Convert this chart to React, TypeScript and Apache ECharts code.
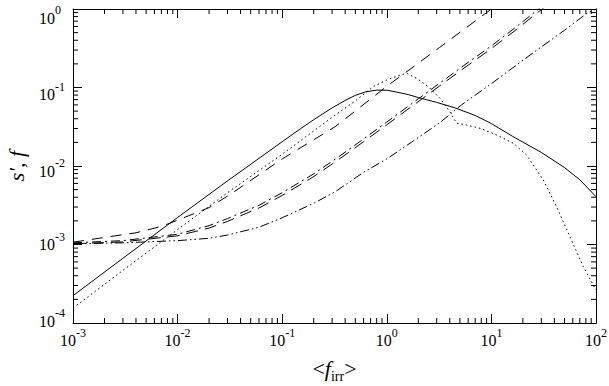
import React, { useEffect, useRef } from 'react';
import * as echarts from 'echarts';

const FONT = '"Liberation Serif", "DejaVu Serif", serif';

// x tick exponents / y tick exponents (labels are 10^e)
const xExponents = [-3, -2, -1, 0, 1, 2];
const yExponents = [-4, -3, -2, -1, 0];

// solid curve
const solidX = [0.001, 0.003, 0.01, 0.03, 0.1, 0.15, 0.2, 0.3, 0.4, 0.5, 0.63, 0.8, 1, 1.25, 1.6, 2, 3, 4.5, 7, 10, 16, 30, 50, 70, 100];
const solidY = [2.23e-4, 6.68e-4, 2.21e-3, 6.46e-3, 0.0204, 0.0299, 0.0389, 0.055, 0.0684, 0.0794, 0.0881, 0.0927, 0.0923, 0.0873, 0.0813, 0.0745, 0.0646, 0.055, 0.044, 0.0347, 0.0238, 0.0149, 9.55e-3, 6.68e-3, 4.07e-3];

// dotted curve
const dottedX = [0.001, 0.003, 0.01, 0.03, 0.1, 0.3, 0.5, 0.75, 1, 1.35, 1.55, 1.95, 2.5, 3.2, 4, 4.65, 5.8, 7.8, 11.2, 16.2, 21.7, 31.3, 42, 56.3, 75.7, 100];
const dottedY = [1.55e-4, 4.68e-4, 1.55e-3, 4.57e-3, 0.0141, 0.0417, 0.0676, 0.1035, 0.1247, 0.1445, 0.1517, 0.1294, 0.1023, 0.0736, 0.0495, 0.035, 0.0333, 0.0302, 0.0248, 0.0195, 0.0138, 6.64e-3, 3.03e-3, 1.256e-3, 5.21e-4, 2.63e-4];

// long-dash curve
const longDashX = [0.001, 0.002, 0.004, 0.007, 0.01, 0.02, 0.032, 0.1, 0.32, 1, 3.2, 10, 20];
const longDashY = [1.07e-3, 1.23e-3, 1.41e-3, 1.70e-3, 2.04e-3, 2.95e-3, 4.37e-3, 0.0123, 0.0316, 0.1035, 0.324, 1.0, 2.0];

// pair of nearly coincident dashed curves
const pairX = [0.001, 0.003, 0.01, 0.02, 0.03, 0.06, 0.1, 0.2, 0.32, 0.6, 1, 1.8, 3.2, 6, 10, 18, 28.2, 40];
const dashAY = [1.05e-3, 1.12e-3, 1.35e-3, 1.74e-3, 2.14e-3, 3.16e-3, 4.57e-3, 7.94e-3, 0.01216, 0.0221, 0.0363, 0.0646, 0.1135, 0.209, 0.339, 0.617, 1.0, 1.41];
const dashBY = [1.02e-3, 1.08e-3, 1.29e-3, 1.62e-3, 1.97e-3, 2.92e-3, 4.22e-3, 7.33e-3, 0.01122, 0.0204, 0.0335, 0.0596, 0.1047, 0.193, 0.313, 0.569, 0.923, 1.30];

// dash-dot-dot curve
const dashDotX = [0.001, 0.003, 0.01, 0.02, 0.03, 0.06, 0.1, 0.2, 0.32, 0.6, 1, 1.8, 3.2, 5.2, 10, 23.4, 50, 81, 100];
const dashDotY = [1.02e-3, 1.05e-3, 1.12e-3, 1.20e-3, 1.32e-3, 1.66e-3, 2.19e-3, 3.35e-3, 4.68e-3, 8.32e-3, 0.0123, 0.0209, 0.0355, 0.0603, 0.112, 0.259, 0.537, 0.871, 1.0];

const X_MIN = 10 ** xExponents[0];
const X_MAX = 10 ** xExponents[xExponents.length - 1];
const Y_MIN = 10 ** yExponents[0];
const Y_MAX = 10 ** yExponents[yExponents.length - 1];

// layout: vertical nudge of each y tick label (same order as yExponents), px
const yLabelNudge = [-5, -3, 2, 4, 6];

const xMinor: number[] = [];
for (let i = 0; i < xExponents.length - 1; i++) for (let k = 2; k <= 9; k++) xMinor.push(k * 10 ** xExponents[i]);
const yMinor: number[] = [];
for (let i = 0; i < yExponents.length - 1; i++) for (let k = 2; k <= 9; k++) yMinor.push(k * 10 ** yExponents[i]);

const pairs = (xs: number[], ys: number[]) => xs.map((x, i) => [x, ys[i]]);

const labelRich = {
  b: { fontFamily: FONT, fontSize: 16, color: '#000', lineHeight: 21, verticalAlign: 'bottom' },
  s: { fontFamily: FONT, fontSize: 12, color: '#000', lineHeight: 21, verticalAlign: 'top' },
};
const expFmt = (v: number) => `{b|10}{s|${Math.round(Math.log10(v))}}`;

const axisCommon = {
  type: 'log',
  logBase: 10,
  splitLine: { show: false },
  axisLine: { show: true, onZero: false, lineStyle: { color: '#000', width: 1 } },
  axisTick: { show: true, inside: true, length: 9, lineStyle: { color: '#000', width: 1 } },
};

const lineSeries = (name: string, xs: number[], ys: number[], type: any) => ({
  name,
  type: 'line',
  data: pairs(xs, ys),
  showSymbol: false,
  symbol: 'none',
  smooth: false,
  clip: true,
  silent: true,
  lineStyle: { color: '#000', width: 1, type, cap: 'butt', join: 'round' },
  xAxisIndex: 0,
  yAxisIndex: 0,
});

const tickStyle = { stroke: '#000', lineWidth: 1 };

const option: any = {
  animation: false,
  backgroundColor: '#fff',
  grid: { left: 73, right: 13, top: 9, bottom: 63, containLabel: false, outerBoundsMode: 'none' },
  xAxis: [
    {
      ...axisCommon,
      position: 'bottom',
      min: X_MIN,
      max: X_MAX,
      axisLabel: { margin: 4, formatter: expFmt, rich: labelRich, color: '#000' },
      name: '{n|<}{f|f}{sub|irr}{n|>}',
      nameLocation: 'middle',
      nameGap: 34,
      nameTextStyle: {
        fontFamily: FONT,
        color: '#000',
        fontSize: 22,
        rich: {
          n: { fontFamily: FONT, fontSize: 22, color: '#000', lineHeight: 26, verticalAlign: 'top' },
          f: { fontFamily: FONT, fontSize: 22, fontStyle: 'italic', color: '#000', lineHeight: 26, verticalAlign: 'top' },
          sub: { fontFamily: FONT, fontSize: 14, color: '#000', lineHeight: 26, verticalAlign: 'bottom' },
        },
      },
    },
    {
      ...axisCommon,
      position: 'top',
      min: X_MIN,
      max: X_MAX,
      axisLabel: { show: false },
    },
  ],
  yAxis: [
    {
      ...axisCommon,
      position: 'left',
      min: Y_MIN,
      max: Y_MAX,
      axisLabel: { show: false },
      name: 's\u2032, f',
      nameLocation: 'middle',
      nameRotate: 90,
      nameGap: 46,
      nameTextStyle: { fontFamily: FONT, fontSize: 22, fontStyle: 'italic', color: '#000' },
    },
    {
      ...axisCommon,
      position: 'right',
      min: Y_MIN,
      max: Y_MAX,
      axisLabel: { show: false },
    },
  ],
  series: [
    lineSeries('solid', solidX, solidY, 'solid'),
    lineSeries('dotted', dottedX, dottedY, [1.5, 3]),
    lineSeries('longDash', longDashX, longDashY, [11, 8]),
    lineSeries('dashA', pairX, dashAY, [9, 4, 2, 4]),
    lineSeries('dashB', pairX, dashBY, [12, 7]),
    lineSeries('dashDotDot', dashDotX, dashDotY, [9, 3, 1.5, 3, 1.5, 3]),
    {
      type: 'custom',
      silent: true,
      xAxisIndex: 0,
      yAxisIndex: 0,
      data: xMinor.map((v) => [v, Y_MIN]),
      renderItem: (_p: any, api: any) => {
        const v = api.value(0);
        const b = api.coord([v, Y_MIN]);
        const t = api.coord([v, Y_MAX]);
        return {
          type: 'group',
          children: [
            { type: 'line', shape: { x1: b[0], y1: b[1], x2: b[0], y2: b[1] - 5 }, style: tickStyle },
            { type: 'line', shape: { x1: t[0], y1: t[1], x2: t[0], y2: t[1] + 5 }, style: tickStyle },
          ],
        };
      },
    },
    {
      type: 'custom',
      silent: true,
      xAxisIndex: 0,
      yAxisIndex: 0,
      data: yMinor.map((v) => [X_MIN, v]),
      renderItem: (_p: any, api: any) => {
        const v = api.value(1);
        const l = api.coord([X_MIN, v]);
        const r = api.coord([X_MAX, v]);
        return {
          type: 'group',
          children: [
            { type: 'line', shape: { x1: l[0], y1: l[1], x2: l[0] + 5, y2: l[1] }, style: tickStyle },
            { type: 'line', shape: { x1: r[0], y1: r[1], x2: r[0] - 5, y2: r[1] }, style: tickStyle },
          ],
        };
      },
    },
    {
      // y tick labels 10^e, placed through the y axis scale
      type: 'custom',
      silent: true,
      xAxisIndex: 0,
      yAxisIndex: 0,
      data: yExponents.map((e) => [X_MIN, 10 ** e]),
      renderItem: (p: any, api: any) => {
        const v = api.value(1);
        const e = Math.round(Math.log10(v));
        const c = api.coord([X_MIN, v]);
        const y = c[1] + 3 + yLabelNudge[p.dataIndex];
        const x = c[0] - 34;
        return {
          type: 'group',
          children: [
            {
              type: 'text',
              x,
              y,
              style: { text: '10', fill: '#000', fontFamily: FONT, fontSize: 16, align: 'left', verticalAlign: 'middle' },
            },
            {
              type: 'text',
              x: x + 16,
              y: y - 8,
              style: { text: String(e), fill: '#000', fontFamily: FONT, fontSize: 12, align: 'left', verticalAlign: 'middle' },
            },
          ],
        };
      },
    },
  ],
};

export default function App() {
  const ref = useRef<HTMLDivElement>(null);
  useEffect(() => {
    const chart = echarts.init(ref.current!, null, { renderer: 'svg' });
    chart.setOption(option);
    return () => chart.dispose();
  }, []);
  return (
    <div
      ref={ref}
      style={{ position: 'absolute', left: 0, top: 0, width: 609, height: 386, background: '#fff' }}
    />
  );
}
